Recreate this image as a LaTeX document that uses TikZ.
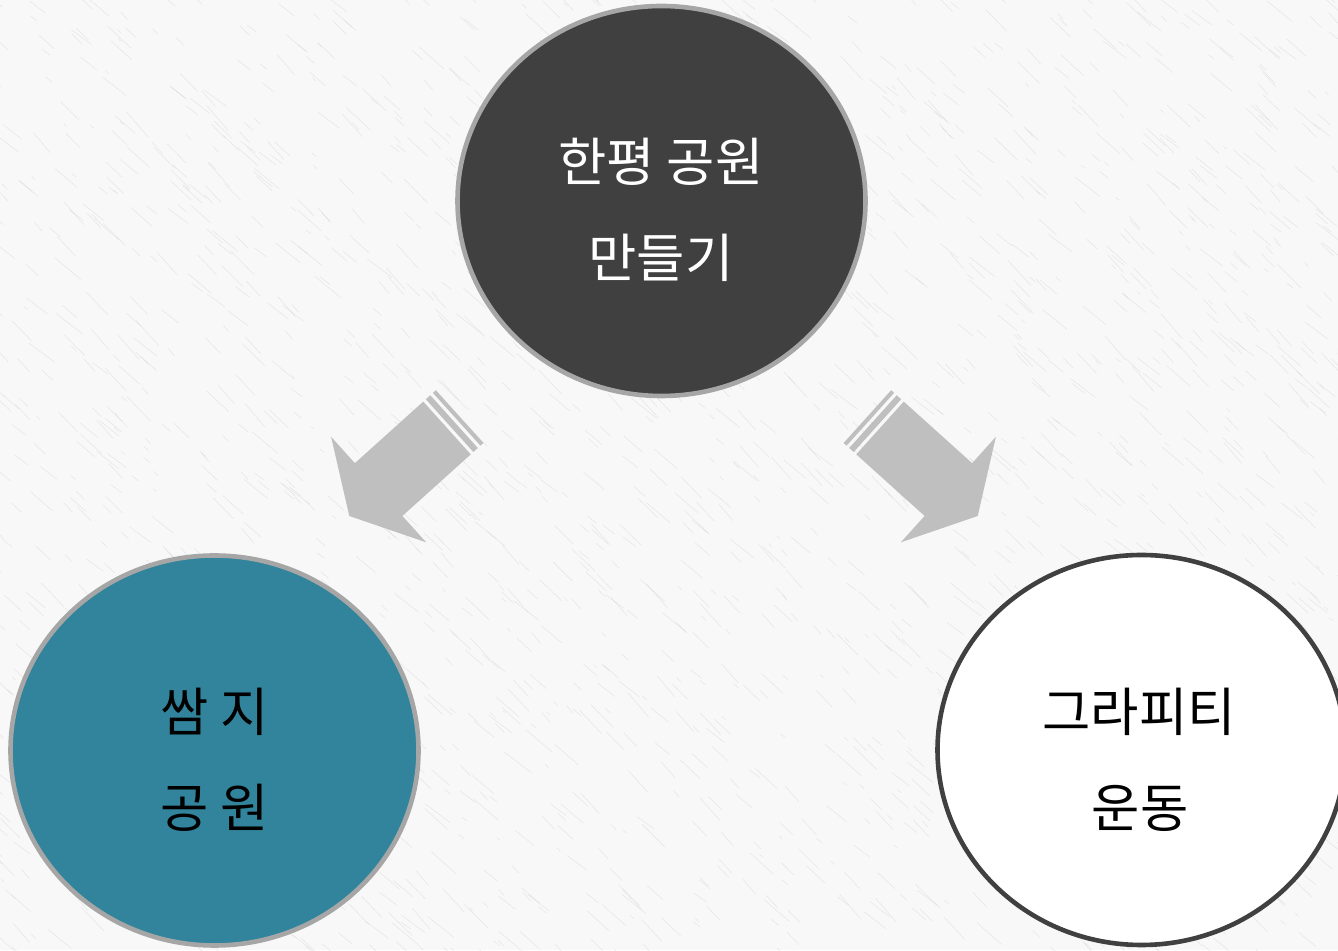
\documentclass[tikz,border=0pt]{standalone}
\usepackage{fontspec}
\newfontfamily\kr{Noto Sans CJK KR}
\usetikzlibrary{shapes.geometric}
\definecolor{bgc}{HTML}{F8F8F8}
\definecolor{scratchc}{HTML}{C8C8C8}
\definecolor{darkc}{HTML}{404040}
\definecolor{rimc}{HTML}{A6A6A6}
\definecolor{tealc}{HTML}{31849B}
\definecolor{arrowc}{HTML}{BFBFBF}
\tikzset{
  bubble/.style={ellipse, minimum width=408pt, minimum height=390pt, inner sep=0pt, line width=4.6pt},
  topbub/.style={bubble, fill=darkc, draw=rimc},
  leftbub/.style={bubble, fill=tealc, draw=rimc},
  rightbub/.style={bubble, fill=white, draw=darkc},
  lbl/.style={font=\kr\fontsize{52.5}{60}\selectfont, anchor=base, inner sep=0pt},
  scratch/.style={draw=scratchc, line width=0.4pt, opacity=0.45},
  arrowfill/.style={fill=arrowc, draw=none}
}
\begin{document}
\begin{tikzpicture}[x=1pt,y=1pt]
\useasboundingbox (0,0) rectangle (1338,950);
\begin{scope}
\clip (0,0) rectangle (1338,950);
\fill[bgc] (0,0) rectangle (1338,950);
\pgfmathsetseed{4711}
\foreach \i in {1,...,2200}{
  \pgfmathsetmacro\xx{rnd*1400-30}
  \pgfmathsetmacro\yy{rnd*1010-30}
  \pgfmathsetmacro\ll{4+rnd*30}
  \pgfmathsetmacro\aa{-36-rnd*14}
  \draw[scratch] (\xx,\yy) -- ++(\aa:\ll);
}
% circles
\node[topbub] (top) at (661.5,749) {};
\node[leftbub] (left) at (214.5,199.5) {};
\node[rightbub] (right) at (1141.5,200) {};
% texts
\node[lbl, text=white] (topA) at (661,768) {한평 공원};
\node[lbl, text=white] (topB) at (661,672) {만들기};
\node[lbl, text=black] (leftA) at (215,218) {쌈 지};
\node[lbl, text=black] (leftB) at (215,122) {공 원};
\node[lbl, text=black] (rightA) at (1139,218) {그라피티};
\node[lbl, text=black] (rightB) at (1140,122) {운동};
% striped arrows
\begin{scope}[shift={(447,522)}, rotate=222]
  \fill[arrowfill] (0,35.5) -- (92,35.5) -- (92,71) -- (131.5,0) -- (92,-71) -- (92,-35.5) -- (0,-35.5) -- cycle;
  \fill[arrowfill] (-3.5,-35.5) rectangle (-9.5,35.5);
  \fill[arrowfill] (-13,-35.5) rectangle (-17,35.5);
\end{scope}
\begin{scope}[shift={(880,522)}, rotate=-42]
  \fill[arrowfill] (0,35.5) -- (92,35.5) -- (92,71) -- (131.5,0) -- (92,-71) -- (92,-35.5) -- (0,-35.5) -- cycle;
  \fill[arrowfill] (-3.5,-35.5) rectangle (-9.5,35.5);
  \fill[arrowfill] (-13,-35.5) rectangle (-17,35.5);
\end{scope}
\end{scope}
\end{tikzpicture}
\end{document}
